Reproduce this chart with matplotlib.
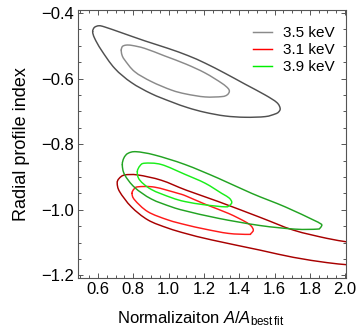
#!/usr/bin/env python3
"""
Confidence contours of normalization vs. radial profile index
for three line energies (3.1, 3.5, 3.9 keV).
"""
import numpy as np
import matplotlib
matplotlib.use("Agg")
import matplotlib.pyplot as plt
from matplotlib.path import Path
from matplotlib.patches import PathPatch
from matplotlib.ticker import MultipleLocator

plt.rcParams['font.family'] = ['Liberation Sans', 'DejaVu Sans']
plt.rcParams['mathtext.fontset'] = 'custom'
plt.rcParams['mathtext.rm'] = 'Liberation Sans'
plt.rcParams['mathtext.it'] = 'Liberation Sans:italic'

# contour vertices: (A/A_best, index)
gray_outer_x = [0.570, 0.580, 0.606, 0.640, 0.732, 0.865, 0.997, 1.110, 1.207, 1.320,
                1.433, 1.547, 1.613, 1.632, 1.623, 1.603, 1.547, 1.433, 1.320, 1.207,
                1.110, 1.016, 0.902, 0.789, 0.695, 0.619, 0.581]
gray_outer_y = [-0.457, -0.444, -0.439, -0.443, -0.460, -0.485, -0.508, -0.530, -0.553, -0.584,
                -0.617, -0.650, -0.673, -0.691, -0.702, -0.708, -0.716, -0.718, -0.714, -0.703,
                -0.689, -0.671, -0.646, -0.612, -0.569, -0.513, -0.477]

gray_inner_x = [0.732, 0.739, 0.760, 0.793, 0.865, 0.978, 1.099, 1.207, 1.301, 1.337,
                1.344, 1.331, 1.301, 1.207, 1.099, 1.016, 0.902, 0.808, 0.751, 0.736]
gray_inner_y = [-0.513, -0.502, -0.498, -0.499, -0.508, -0.531, -0.556, -0.583, -0.614, -0.630,
                -0.640, -0.650, -0.655, -0.656, -0.647, -0.635, -0.609, -0.579, -0.543, -0.528]

green_outer_x = [0.738, 0.747, 0.770, 0.817, 0.921, 1.093, 1.282, 1.471, 1.660,
                 1.820, 1.853, 1.868, 1.859, 1.840, 1.717, 1.518, 1.282, 1.093, 1.016,
                 0.902, 0.808, 0.751]
green_outer_y = [-0.863, -0.842, -0.828, -0.823, -0.833, -0.862, -0.904, -0.950, -0.991,
                 -1.031, -1.040, -1.046, -1.055, -1.059, -1.059, -1.048, -1.026, -1.003, -0.991,
                 -0.967, -0.932, -0.893]

green_inner_x = [0.823, 0.838, 0.865, 0.959, 1.093, 1.207, 1.301, 1.343, 1.358, 1.345,
                 1.320, 1.207, 1.093, 1.016, 0.902, 0.836]
green_inner_y = [-0.884, -0.866, -0.858, -0.862, -0.892, -0.919, -0.950, -0.964, -0.977, -0.987,
                 -0.991, -0.985, -0.975, -0.963, -0.938, -0.909]

# the outer 3.1 keV contour runs past A/A_best = 2
red_outer_x = [2.034, 2.000, 1.896, 1.707, 1.518, 1.282, 1.099, 0.959, 0.827,
               0.751, 0.719, 0.709, 0.723, 0.789, 0.883, 0.997, 1.102, 1.245, 1.518,
               1.707, 1.896, 2.000, 2.034]
red_outer_y = [-1.101, -1.097, -1.087, -1.062, -1.023, -0.975, -0.940, -0.910, -0.894,
               -0.894, -0.905, -0.919, -0.945, -0.991, -1.031, -1.056, -1.073, -1.092, -1.123,
               -1.145, -1.161, -1.167, -1.169]

red_inner_x = [0.793, 0.804, 0.827, 0.921, 1.054, 1.099, 1.207, 1.339, 1.433, 1.467,
               1.480, 1.467, 1.452, 1.339, 1.207, 1.099, 0.997, 0.883, 0.808]
red_inner_y = [-0.950, -0.937, -0.930, -0.931, -0.950, -0.958, -0.983, -1.011, -1.036, -1.049,
               -1.062, -1.072, -1.075, -1.072, -1.059, -1.046, -1.031, -1.006, -0.970]

energies = ['3.5 keV', '3.1 keV', '3.9 keV']


def smooth_path(xs, ys, closed=True):
    """Catmull-Rom curve through the vertices, as a cubic Bezier Path."""
    pts = np.column_stack([xs, ys])
    n = len(pts)
    if closed:
        get = lambda i: pts[i % n]
        segs = n
    else:
        get = lambda i: pts[min(max(i, 0), n - 1)]
        segs = n - 1
    verts = [pts[0]]
    codes = [Path.MOVETO]
    for i in range(segs):
        p0, p1, p2, p3 = get(i - 1), get(i), get(i + 1), get(i + 2)
        verts += [p1 + (p2 - p0) / 6.0, p2 - (p3 - p1) / 6.0, p2]
        codes += [Path.CURVE4] * 3
    return Path(verts, codes)


fig = plt.figure(figsize=(3.59, 3.28), dpi=100)
ax = fig.add_axes([0.2173, 0.1524, 0.7465, 0.8171])

lw = 1.05
contours = [
    (gray_outer_x, gray_outer_y, '#505050', True),
    (gray_inner_x, gray_inner_y, '#8a8a8a', True),
    (red_outer_x, red_outer_y, '#a80000', False),
    (red_inner_x, red_inner_y, '#ff1a1a', True),
    (green_outer_x, green_outer_y, '#22a322', True),
    (green_inner_x, green_inner_y, '#1aee1a', True),
]
for xs, ys, col, closed in contours:
    ax.add_patch(PathPatch(smooth_path(xs, ys, closed), fill=False,
                           edgecolor=col, lw=lw, capstyle='round'))

# legend handles
handles = [
    plt.Line2D([], [], color='#8a8a8a', lw=lw),
    plt.Line2D([], [], color='#ff0000', lw=lw),
    plt.Line2D([], [], color='#00ee00', lw=lw),
]
ax.legend(handles, energies, loc='upper left', bbox_to_anchor=(0.652, 0.94),
          frameon=False, fontsize=11, handlelength=1.24, handletextpad=0.76,
          labelspacing=0.2, borderpad=0, borderaxespad=0)

ax.set_xlim(0.487, 2.005)
ax.set_ylim(-1.208, -0.391)

ax.xaxis.set_major_locator(MultipleLocator(0.2))
ax.xaxis.set_minor_locator(MultipleLocator(0.05))
ax.yaxis.set_major_locator(MultipleLocator(0.2))
ax.yaxis.set_minor_locator(MultipleLocator(0.05))
ax.xaxis.set_major_formatter(plt.FuncFormatter(lambda v, p: f'{v:.1f}'))
ax.yaxis.set_major_formatter(plt.FuncFormatter(
    lambda v, p: ('\u2212' if v < -1e-9 else '') + f'{abs(v):.1f}'))

frame = '#555555'
for s in ax.spines.values():
    s.set_color(frame)
    s.set_linewidth(0.8)
ax.tick_params(which='both', direction='in', top=True, right=True,
               color=frame, labelsize=12, width=0.7)
ax.tick_params(which='major', length=3.6, pad=3)
ax.tick_params(which='minor', length=2.0)

ax.set_xlabel(r'Normalizaiton $A/A_{\mathrm{best\,fit}}$', fontsize=12)
ax.set_ylabel('Radial profile index', fontsize=13)
ax.xaxis.set_label_coords(0.46, -0.116)
ax.yaxis.set_label_coords(-0.178, 0.5)

fig.savefig('out.png', dpi=100)
